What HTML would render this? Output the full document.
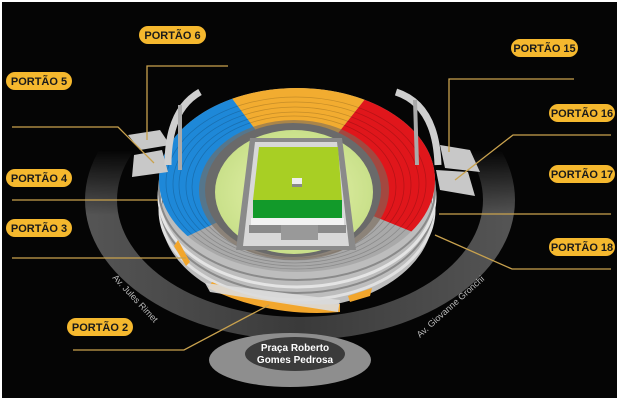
<!DOCTYPE html>
<html><head><meta charset="utf-8"><style>
html,body{margin:0;padding:0;background:#fff}
svg{display:block}
.lb{font-family:"Liberation Sans",sans-serif;font-weight:bold;font-size:11px;fill:#1a1a1a}
</style></head><body>
<svg width="619" height="404" viewBox="0 0 619 404" xmlns="http://www.w3.org/2000/svg">
<defs>
<linearGradient id="fg" gradientUnits="userSpaceOnUse" x1="0" y1="150" x2="0" y2="215">
<stop offset="0" stop-color="#fff" stop-opacity="0"/>
<stop offset="1" stop-color="#fff" stop-opacity="1"/>
</linearGradient>
<mask id="rm"><rect x="0" y="0" width="619" height="404" fill="url(#fg)"/></mask>
<linearGradient id="rg" x1="0" y1="0" x2="1" y2="0">
<stop offset="0" stop-color="#555"/><stop offset="0.5" stop-color="#3a3a3a"/><stop offset="1" stop-color="#555"/>
</linearGradient>
<clipPath id="outer"><ellipse cx="297" cy="180" rx="138" ry="92"/></clipPath>
<radialGradient id="grn" cx="0.5" cy="0.5" r="0.5">
<stop offset="0" stop-color="#eaf5b0"/><stop offset="1" stop-color="#c9e08a"/>
</radialGradient>
</defs>
<rect x="0" y="0" width="619" height="404" fill="#fff"/>
<rect x="2" y="2" width="615" height="396" fill="#050505"/>

<!-- road ring -->
<path fill-rule="evenodd" mask="url(#rm)" fill="url(#rg)" d="M85,200 A215,140 0 1 0 515,200 A215,140 0 1 0 85,200 Z M117,200 A183,117 0 1 0 483,200 A183,117 0 1 0 117,200 Z"/>
<!-- plaza -->
<ellipse cx="290" cy="360" rx="81" ry="27" fill="#8e8e8e"/>
<ellipse cx="295" cy="354" rx="50" ry="17" fill="#3b3b3b"/>
<text x="295" y="351" text-anchor="middle" font-family="Liberation Sans,sans-serif" font-weight="bold" font-size="10" fill="#fff">Praça Roberto</text>
<text x="295" y="363" text-anchor="middle" font-family="Liberation Sans,sans-serif" font-weight="bold" font-size="10" fill="#fff">Gomes Pedrosa</text>
<text transform="translate(112,278) rotate(47)" font-family="Liberation Sans,sans-serif" font-size="9" fill="#bbb">Av. Jules Rimet</text>
<text transform="translate(420,338) rotate(-42)" font-family="Liberation Sans,sans-serif" font-size="9" fill="#bbb">Av. Giovanne Gronchi</text>

<!-- stadium walls -->
<ellipse cx="297" cy="215" rx="136" ry="93" fill="#bdbdbd"/>
<ellipse cx="297" cy="210" rx="137" ry="90" fill="none" stroke="#e0e0e0" stroke-width="3"/>
<ellipse cx="297" cy="203" rx="137" ry="90" fill="none" stroke="#8a8a8a" stroke-width="2"/>
<ellipse cx="297" cy="197" rx="138" ry="90" fill="none" stroke="#e4e4e4" stroke-width="3"/>
<ellipse cx="297" cy="190" rx="138" ry="90" fill="none" stroke="#8a8a8a" stroke-width="2"/>
<path d="M208,288 Q270,318 340,312 L340,304 Q270,308 212,282 Z" fill="#f2a62c"/>
<path d="M178,240 L190,262 L186,266 L174,246Z" fill="#f2a62c"/>
<path d="M370,296 L372,288 L348,296 L350,302Z" fill="#f2a62c"/>
<path d="M205,283 L340,300 L338,312 L210,292Z" fill="#dcdcdc" opacity="0.9"/>
<!-- top gray ring -->
<ellipse cx="297" cy="180" rx="138" ry="92" fill="#a9a9a9"/>
<!-- colored stands -->
<g clip-path="url(#outer)">
<polygon points="297,185 83,285 0,285 0,9 165,9" fill="#1e88d8"/>
<polygon points="297,185 165,9 435,11" fill="#f2ac30"/>
<polygon points="297,185 435,11 619,11 619,281 533,281" fill="#e0161b"/>
<g fill="none" stroke="#000" stroke-opacity="0.18" stroke-width="0.8">
<ellipse cx="296" cy="183" rx="130" ry="86"/><ellipse cx="296" cy="184" rx="123" ry="82"/>
<ellipse cx="295" cy="185" rx="116" ry="78"/><ellipse cx="295" cy="186" rx="109" ry="74"/>
<ellipse cx="294" cy="187" rx="102" ry="71"/>
</g>
</g>
<!-- inner opening -->
<ellipse cx="294" cy="190" rx="95" ry="70" fill="#7a6a5a" opacity="0.6"/>
<ellipse cx="293" cy="190" rx="88" ry="67" fill="#6a6a6a"/>
<ellipse cx="294" cy="192" rx="79" ry="62" fill="url(#grn)"/>
<polygon points="250,138 342,138 356,250 236,250" fill="#8a8a8a"/>
<polygon points="255,142 337,142 349,246 243,246" fill="#d8d8d8"/>
<polygon points="259,147 338,147 342,200 253,200" fill="#a8cf24"/>
<rect x="253" y="200" width="89" height="18" fill="#129a2a"/>
<rect x="251" y="218" width="93" height="7" fill="#f2f2f2"/>
<rect x="249" y="225" width="97" height="8" fill="#8a8a8a"/>
<rect x="281" y="225" width="37" height="15" fill="#999"/>
<rect x="292" y="178" width="10" height="8" fill="#eee"/><rect x="292" y="184" width="10" height="3" fill="#888"/>
<!-- arches & platforms left -->
<polygon points="128,135 160,130 170,145 140,150" fill="#c8c8c8"/>
<polygon points="134,155 162,150 168,172 132,177" fill="#c8c8c8"/>
<path d="M200,92 Q168,110 168,165" fill="none" stroke="#cfcfcf" stroke-width="7"/>
<path d="M180,105 L180,170" stroke="#aaa" stroke-width="4"/>
<!-- right -->
<polygon points="440,145 470,150 480,172 445,168" fill="#c8c8c8"/>
<polygon points="436,170 468,172 475,196 440,190" fill="#c8c8c8"/>
<path d="M396,92 Q436,105 438,165" fill="none" stroke="#cfcfcf" stroke-width="7"/>
<path d="M415,100 L417,165" stroke="#aaa" stroke-width="4"/>

<!-- connectors -->
<g fill="none" stroke="#c9a24e" stroke-width="1.3">
<polyline points="147,140 147,66 228,66"/>
<polyline points="12,127 118,127 154,163"/>
<polyline points="12,200 158,200"/>
<polyline points="12,258 186,258"/>
<polyline points="73,350 184,350 269,305"/>
<polyline points="449,152 449,79 574,79"/>
<polyline points="455,180 513,135 611,135"/>
<polyline points="439,214 611,214"/>
<polyline points="435,235 512,269 611,269"/>
</g>
<!-- labels -->
<g>
<rect x="139" y="26" width="67" height="18" rx="9" fill="#f5b82e"/><text class="lb" x="172.5" y="39" text-anchor="middle">PORTÃO 6</text>
<rect x="6" y="72" width="66" height="18" rx="9" fill="#f5b82e"/><text class="lb" x="39" y="85" text-anchor="middle">PORTÃO 5</text>
<rect x="511" y="39" width="67" height="18" rx="9" fill="#f5b82e"/><text class="lb" x="544.5" y="52" text-anchor="middle">PORTÃO 15</text>
<rect x="549" y="104" width="66" height="18" rx="9" fill="#f5b82e"/><text class="lb" x="582" y="117" text-anchor="middle">PORTÃO 16</text>
<rect x="6" y="169" width="66" height="18" rx="9" fill="#f5b82e"/><text class="lb" x="39" y="182" text-anchor="middle">PORTÃO 4</text>
<rect x="549" y="165" width="66" height="18" rx="9" fill="#f5b82e"/><text class="lb" x="582" y="178" text-anchor="middle">PORTÃO 17</text>
<rect x="6" y="219" width="66" height="18" rx="9" fill="#f5b82e"/><text class="lb" x="39" y="232" text-anchor="middle">PORTÃO 3</text>
<rect x="549" y="238" width="66" height="18" rx="9" fill="#f5b82e"/><text class="lb" x="582" y="251" text-anchor="middle">PORTÃO 18</text>
<rect x="67" y="318" width="66" height="18" rx="9" fill="#f5b82e"/><text class="lb" x="100" y="331" text-anchor="middle">PORTÃO 2</text>
</g>
</svg>
</body></html>
